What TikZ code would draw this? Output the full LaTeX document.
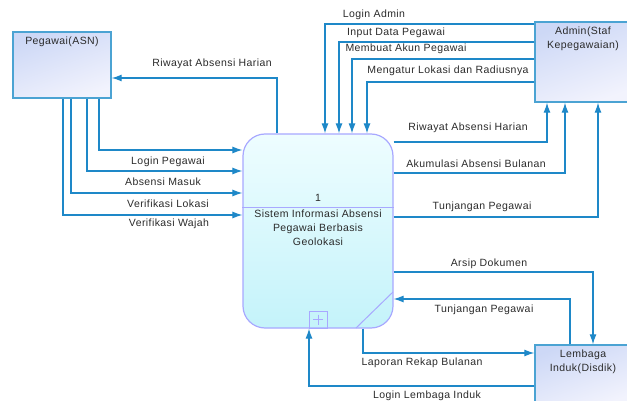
\documentclass[tikz,border=0pt]{standalone}
\usepackage{fontspec}
\newfontfamily\dfdfont{Liberation Sans}[LetterSpace=4]
\usetikzlibrary{arrows.meta, positioning}

\definecolor{flowblue}{HTML}{1E88C8}
\definecolor{entline}{HTML}{4BA3D3}
\definecolor{entdark}{HTML}{CDD8F6}
\definecolor{entlight}{HTML}{F2F3FD}
\definecolor{procline}{HTML}{A8A8FF}
\definecolor{proctop}{HTML}{EEFDFF}
\definecolor{procbot}{HTML}{C4F3FA}
\definecolor{txtgray}{HTML}{2A2A2A}

\begin{document}
\begin{tikzpicture}[x=1pt, y=-1pt,
    % external entities
    entity/.style={draw=entline, line width=1.4pt, shading=axis,
        left color=entdark, right color=entlight, shading angle=20,
        minimum width=#1, inner sep=0pt},
    % text of entities, process and flows
    dfdtext/.style={font=\dfdfont\fontsize{10.5}{14}\selectfont, text=txtgray,
        inner sep=0pt, align=center},
    % data flows
    flow/.style={draw=flowblue, line width=1.1pt, -{Latex[length=10pt,width=7pt]}}
]
\useasboundingbox (0,0) rectangle (627,401);

% 1. Entities
\node[entity=98pt, minimum height=66pt] (pegawai) at (62,65) {};
\node[dfdtext, below=5pt of pegawai.north] (pegawainame) {Pegawai(ASN)};

\node[entity=96pt, minimum height=80pt] (admin) at (583,62) {};
\node[dfdtext, below=5pt of admin.north] (adminname) {Admin(Staf\\Kepegawaian)};

\node[entity=96pt, minimum height=60pt] (lembaga) at (583,375) {};
\node[dfdtext, below=5pt of lembaga.north] (lembaganame) {Lembaga\\Induk(Disdik)};

% 2. Process
\node[draw=procline, line width=1.2pt, rounded corners=22pt, top color=proctop,
    bottom color=procbot, minimum width=150pt, minimum height=194pt,
    inner sep=0pt] (proc) at (318,231) {};
\draw[procline, line width=1pt] (proc.west |- 0,208) -- (proc.east |- 0,208);
\node[dfdtext] (procnum) at (318,198) {1};
\node[dfdtext, anchor=north] (procname) at (318,210)
    {Sistem Informasi Absensi\\Pegawai Berbasis\\Geolokasi};
\draw[procline, line width=1pt] (309,328) rectangle (327,311);
\draw[procline, line width=0.8pt] (313,319.5) -- (323,319.5) (318,314.5) -- (318,324.5);
\draw[procline, line width=1pt] (356,328) -- (393,292);

% 3. Flows between Pegawai and the process
\draw[flow] (proc.north -| 277,0) |- (pegawai.east |- 0,78);
\draw[flow] (pegawai.south -| 99,0) |- (proc.west |- 0,150);
\draw[flow] (pegawai.south -| 87,0) |- (proc.west |- 0,171);
\draw[flow] (pegawai.south -| 71,0) |- (proc.west |- 0,193);
\draw[flow] (pegawai.south -| 63,0) |- (proc.west |- 0,215);

\node[dfdtext] (f1) at (212,64)  {Riwayat Absensi Harian};
\node[dfdtext] (f2) at (168,162) {Login Pegawai};
\node[dfdtext] (f3) at (163,182) {Absensi Masuk};
\node[dfdtext] (f4) at (168,204) {Verifikasi Lokasi};
\node[dfdtext] (f5) at (169,224) {Verifikasi Wajah};

% 4. Flows between Admin and the process
\draw[flow] (admin.west |- 0,24) -| (proc.north -| 325,0);
\draw[flow] (admin.west |- 0,42) -| (proc.north -| 339,0);
\draw[flow] (admin.west |- 0,59) -| (proc.north -| 352,0);
\draw[flow] (admin.west |- 0,82) -| (proc.north -| 367,0);
\draw[flow] (proc.east |- 0,142) -| (admin.south -| 547,0);
\draw[flow] (proc.east |- 0,173) -| (admin.south -| 565,0);
\draw[flow] (proc.east |- 0,217) -| (admin.south -| 598,0);

\node[dfdtext] (f6)  at (374,15)  {Login Admin};
\node[dfdtext] (f7)  at (396,33)  {Input Data Pegawai};
\node[dfdtext] (f8)  at (406,49)  {Membuat Akun Pegawai};
\node[dfdtext] (f9)  at (448,71)  {Mengatur Lokasi dan Radiusnya};
\node[dfdtext] (f10) at (468,128) {Riwayat Absensi Harian};
\node[dfdtext] (f11) at (476,164) {Akumulasi Absensi Bulanan};
\node[dfdtext] (f12) at (482,207) {Tunjangan Pegawai};

% 5. Flows between Lembaga Induk and the process
\draw[flow] (proc.east |- 0,272) -| (lembaga.north -| 593,0);
\draw[flow] (lembaga.north -| 570,0) |- (proc.east |- 0,299);
\draw[flow] (proc.south -| 363,0) |- (lembaga.west |- 0,353);
\draw[flow] (lembaga.west |- 0,386) -| (proc.south -| 309,0);

\node[dfdtext] (f13) at (489,264) {Arsip Dokumen};
\node[dfdtext] (f14) at (484,310) {Tunjangan Pegawai};
\node[dfdtext] (f15) at (422,363) {Laporan Rekap Bulanan};
\node[dfdtext] (f16) at (427,396) {Login Lembaga Induk};

\end{tikzpicture}
\end{document}
